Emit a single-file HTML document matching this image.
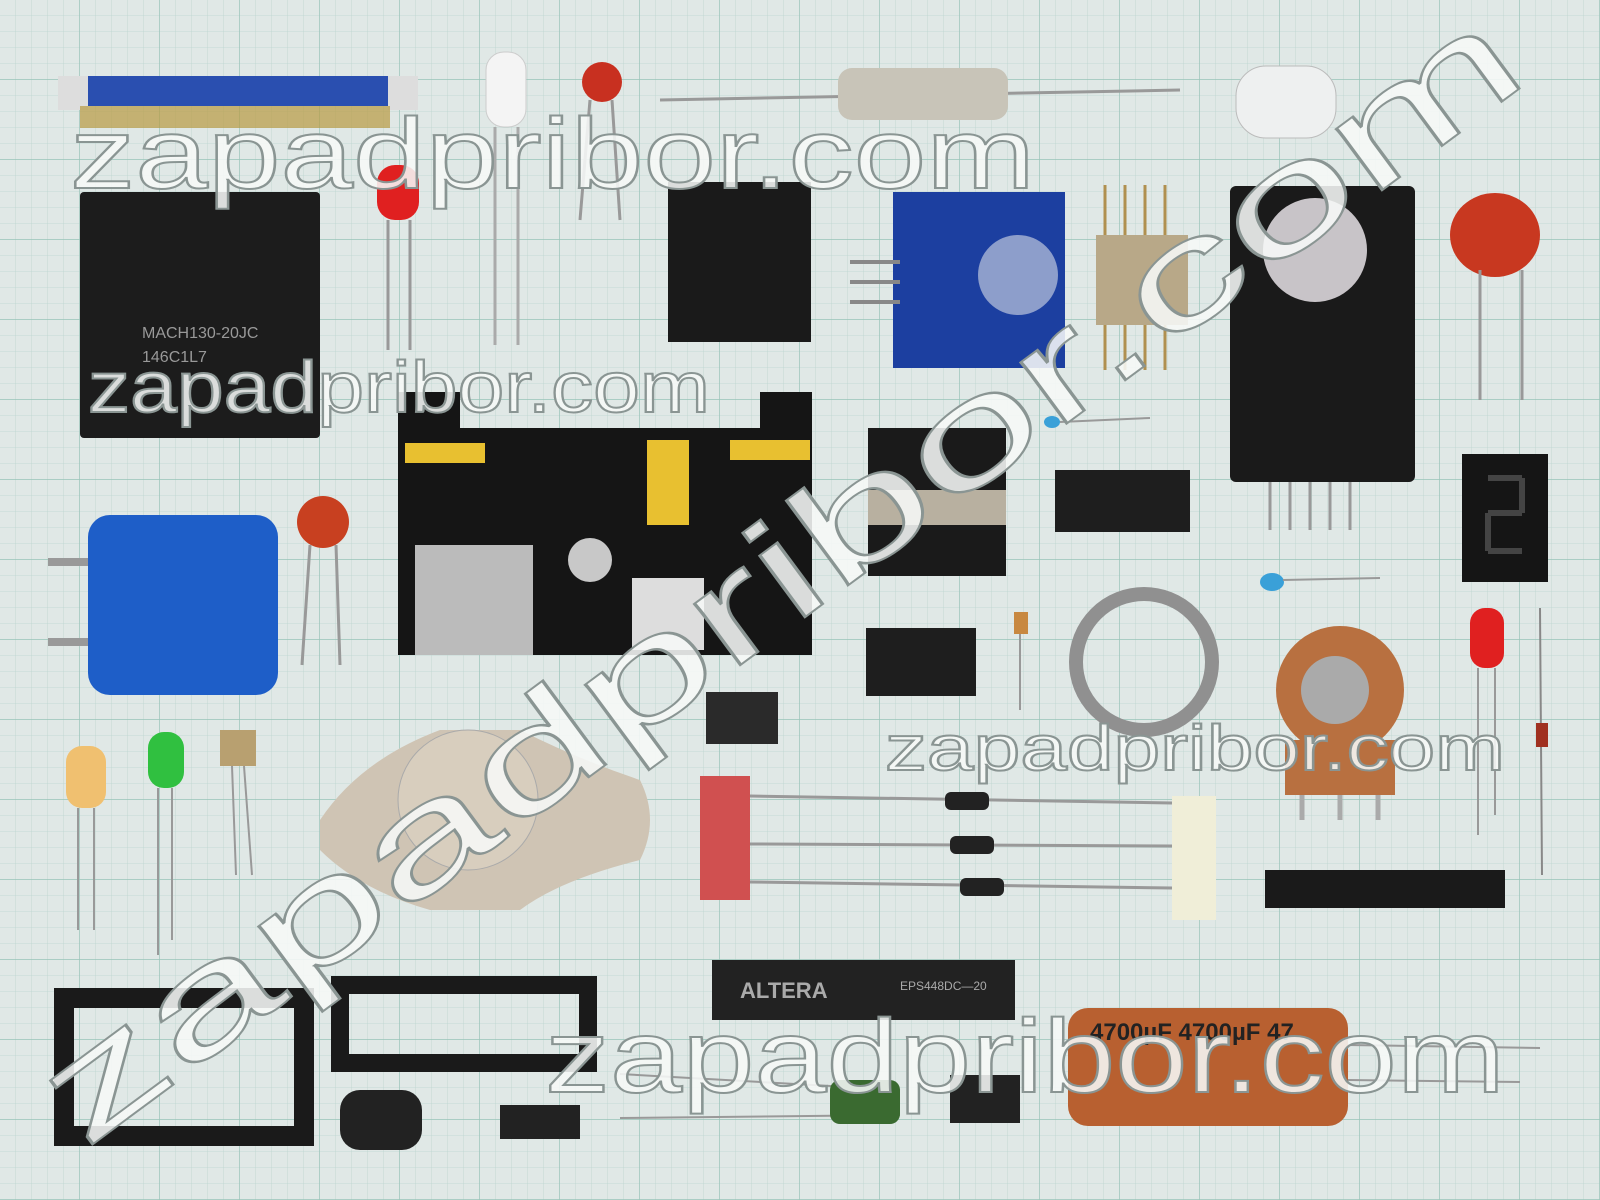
<!DOCTYPE html>
<html><head><meta charset="utf-8"><style>
html,body{margin:0;padding:0;width:1600px;height:1200px;overflow:hidden;background:#dce6e4}
svg{display:block}
.wm{font-family:"Liberation Sans",sans-serif;fill:#f6f8f7;stroke:#8a9593;stroke-width:2;fill-opacity:.88}
</style></head><body>
<svg width="1600" height="1200" viewBox="0 0 1600 1200" xmlns="http://www.w3.org/2000/svg">
<defs>
<pattern id="g1" width="16" height="16" patternUnits="userSpaceOnUse"><path d="M16 0V16H0" fill="none" stroke="#bcd6cf" stroke-width="0.8"/></pattern>
<pattern id="g2" width="80" height="80" patternUnits="userSpaceOnUse"><path d="M80 0V80H0" fill="none" stroke="#98c4b8" stroke-width="1.4"/></pattern>
</defs>
<rect width="1600" height="1200" fill="#e0e8e6"/>
<rect width="1600" height="1200" fill="url(#g1)"/>
<rect width="1600" height="1200" fill="url(#g2)"/>

<rect x="58" y="76" width="360" height="30" fill="#2a4fb0"/>
<rect x="58" y="76" width="30" height="34" fill="#ddd"/><rect x="388" y="76" width="30" height="34" fill="#ddd"/>
<rect x="80" y="106" width="310" height="22" fill="#b89a40" opacity=".7"/>
<rect x="80" y="192" width="240" height="246" fill="#1c1c1c" rx="4"/>
<text x="142" y="338" font-family="Liberation Sans" font-size="16" fill="#999">MACH130-20JC</text>
<text x="142" y="362" font-family="Liberation Sans" font-size="16" fill="#999">146C1L7</text>
<rect x="377" y="165" width="42" height="55" rx="18" fill="#e02020"/>
<rect x="486" y="52" width="40" height="75" rx="18" fill="#f4f4f4" stroke="#ccc"/>
<line x1="388" y1="220" x2="388" y2="350" stroke="#999" stroke-width="3"/><line x1="410" y1="220" x2="410" y2="350" stroke="#999" stroke-width="3"/>
<line x1="495" y1="127" x2="495" y2="345" stroke="#aaa" stroke-width="3"/><line x1="518" y1="127" x2="518" y2="345" stroke="#aaa" stroke-width="3"/>
<circle cx="602" cy="82" r="20" fill="#c83020"/>
<line x1="590" y1="100" x2="580" y2="220" stroke="#999" stroke-width="3"/><line x1="612" y1="100" x2="620" y2="220" stroke="#999" stroke-width="3"/>
<line x1="660" y1="100" x2="1180" y2="90" stroke="#999" stroke-width="3"/>
<rect x="838" y="68" width="170" height="52" rx="14" fill="#c8c4b8"/>
<rect x="1236" y="66" width="100" height="72" rx="30" fill="#eef0f0" stroke="#bbb"/>
<rect x="668" y="182" width="143" height="160" fill="#1a1a1a"/>
<rect x="893" y="192" width="172" height="176" fill="#1c3fa0"/>
<circle cx="1018" cy="275" r="40" fill="#d8dde8" opacity=".6"/>
<line x1="850" y1="262" x2="900" y2="262" stroke="#888" stroke-width="4"/><line x1="850" y1="282" x2="900" y2="282" stroke="#888" stroke-width="4"/><line x1="850" y1="302" x2="900" y2="302" stroke="#888" stroke-width="4"/>
<rect x="1096" y="235" width="92" height="90" fill="#b8a888"/>
<g stroke="#b09050" stroke-width="3"><line x1="1105" y1="185" x2="1105" y2="235"/><line x1="1125" y1="185" x2="1125" y2="235"/><line x1="1145" y1="185" x2="1145" y2="235"/><line x1="1165" y1="185" x2="1165" y2="235"/><line x1="1105" y1="325" x2="1105" y2="370"/><line x1="1125" y1="325" x2="1125" y2="370"/><line x1="1145" y1="325" x2="1145" y2="370"/><line x1="1165" y1="325" x2="1165" y2="370"/></g>
<rect x="1230" y="186" width="185" height="296" rx="6" fill="#1a1a1a"/>
<circle cx="1315" cy="250" r="52" fill="#c8c4c8"/>
<g stroke="#999" stroke-width="3"><line x1="1270" y1="482" x2="1270" y2="530"/><line x1="1290" y1="482" x2="1290" y2="530"/><line x1="1310" y1="482" x2="1310" y2="530"/><line x1="1330" y1="482" x2="1330" y2="530"/><line x1="1350" y1="482" x2="1350" y2="530"/></g>
<ellipse cx="1495" cy="235" rx="45" ry="42" fill="#c83820"/>
<line x1="1480" y1="270" x2="1480" y2="400" stroke="#999" stroke-width="3"/><line x1="1522" y1="270" x2="1522" y2="400" stroke="#999" stroke-width="3"/>
<path d="M398 392H460V428H760V392H812V655H398Z" fill="#151515"/>
<rect x="415" y="545" width="118" height="110" fill="#bbb"/>
<circle cx="590" cy="560" r="22" fill="#c8c8c8"/>
<rect x="632" y="578" width="72" height="72" fill="#ddd"/>
<rect x="647" y="440" width="42" height="85" fill="#e8c030"/>
<rect x="405" y="443" width="80" height="20" fill="#e8c030"/><rect x="730" y="440" width="80" height="20" fill="#e8c030"/>
<rect x="868" y="428" width="138" height="148" fill="#1a1a1a"/>
<rect x="868" y="490" width="138" height="35" fill="#b8b0a0"/>
<rect x="1055" y="470" width="135" height="62" fill="#1e1e1e"/>
<rect x="866" y="628" width="110" height="68" fill="#1e1e1e"/>
<rect x="706" y="692" width="72" height="52" fill="#2a2a2a"/>
<ellipse cx="1052" cy="422" rx="8" ry="6" fill="#3aa0d8"/>
<ellipse cx="1272" cy="582" rx="12" ry="9" fill="#3aa0d8"/>
<line x1="1060" y1="422" x2="1150" y2="418" stroke="#999" stroke-width="2"/><line x1="1283" y1="580" x2="1380" y2="578" stroke="#999" stroke-width="2"/>
<rect x="1462" y="454" width="86" height="128" fill="#151515"/>
<path d="M1488 478h34M1522 478v35M1488 513h34M1488 513v38M1488 551h34" stroke="#444" stroke-width="6" fill="none"/>
<rect x="88" y="515" width="190" height="180" rx="22" fill="#1e5ec8"/>
<rect x="48" y="558" width="40" height="8" fill="#999"/><rect x="48" y="638" width="40" height="8" fill="#999"/>
<circle cx="323" cy="522" r="26" fill="#c84020"/>
<line x1="310" y1="545" x2="302" y2="665" stroke="#999" stroke-width="3"/><line x1="336" y1="545" x2="340" y2="665" stroke="#999" stroke-width="3"/>
<rect x="1014" y="612" width="14" height="22" fill="#c88840"/><line x1="1020" y1="634" x2="1020" y2="710" stroke="#999" stroke-width="2"/>
<circle cx="1144" cy="662" r="68" fill="none" stroke="#909090" stroke-width="14"/>
<circle cx="1340" cy="690" r="64" fill="#b87040"/><circle cx="1335" cy="690" r="34" fill="#aaa"/>
<rect x="1285" y="740" width="110" height="55" fill="#b87040"/>
<g stroke="#aaa" stroke-width="5"><line x1="1302" y1="795" x2="1302" y2="820"/><line x1="1340" y1="795" x2="1340" y2="820"/><line x1="1378" y1="795" x2="1378" y2="820"/></g>
<rect x="1470" y="608" width="34" height="60" rx="15" fill="#e02020"/>
<line x1="1478" y1="668" x2="1478" y2="835" stroke="#999" stroke-width="2"/><line x1="1495" y1="668" x2="1495" y2="815" stroke="#999" stroke-width="2"/>
<line x1="1540" y1="608" x2="1542" y2="875" stroke="#888" stroke-width="2"/><rect x="1536" y="723" width="12" height="24" fill="#a03020"/>
<rect x="66" y="746" width="40" height="62" rx="16" fill="#f0c070"/>
<rect x="148" y="732" width="36" height="56" rx="16" fill="#30c040"/>
<rect x="220" y="730" width="36" height="36" fill="#b8a070"/>
<g stroke="#999" stroke-width="2"><line x1="78" y1="808" x2="78" y2="930"/><line x1="94" y1="808" x2="94" y2="930"/><line x1="158" y1="788" x2="158" y2="955"/><line x1="172" y1="788" x2="172" y2="940"/><line x1="232" y1="766" x2="236" y2="875"/><line x1="244" y1="766" x2="252" y2="875"/></g>
<path d="M320 820Q360 760 440 730H520Q580 760 640 780Q660 820 640 860Q560 880 520 910H430Q360 890 320 850Z" fill="#cfc4b4"/>
<circle cx="468" cy="800" r="70" fill="#d8cebe" stroke="#aaa"/>
<rect x="700" y="776" width="50" height="124" fill="#d05050"/>
<rect x="1172" y="796" width="44" height="124" fill="#f0eed8"/>
<g stroke="#999" stroke-width="3"><line x1="750" y1="796" x2="1172" y2="803"/><line x1="750" y1="844" x2="1172" y2="846"/><line x1="750" y1="882" x2="1172" y2="888"/></g>
<rect x="945" y="792" width="44" height="18" rx="6" fill="#222"/><rect x="950" y="836" width="44" height="18" rx="6" fill="#222"/><rect x="960" y="878" width="44" height="18" rx="6" fill="#222"/>
<rect x="1265" y="870" width="240" height="38" fill="#1a1a1a"/>
<rect x="712" y="960" width="303" height="60" fill="#222"/>
<text x="740" y="998" font-family="Liberation Sans" font-size="22" font-weight="bold" fill="#aaa">ALTERA</text>
<text x="900" y="990" font-family="Liberation Sans" font-size="12" fill="#aaa">EPS448DC—20</text>
<rect x="64" y="998" width="240" height="138" fill="none" stroke="#1a1a1a" stroke-width="20"/>
<rect x="340" y="985" width="248" height="78" fill="none" stroke="#1a1a1a" stroke-width="18"/>
<rect x="340" y="1090" width="82" height="60" rx="20" fill="#222"/>
<rect x="500" y="1105" width="80" height="34" fill="#222"/>
<rect x="950" y="1075" width="70" height="48" fill="#222"/>
<line x1="620" y1="1074" x2="900" y2="1090" stroke="#999" stroke-width="2"/><line x1="620" y1="1118" x2="900" y2="1115" stroke="#999" stroke-width="2"/>
<rect x="830" y="1080" width="70" height="44" rx="10" fill="#3a6a30"/>
<rect x="1068" y="1008" width="280" height="118" rx="20" fill="#b86030"/>
<text x="1090" y="1040" font-family="Liberation Sans" font-size="24" font-weight="bold" fill="#222">4700µF 4700µF 47</text>
<line x1="1348" y1="1045" x2="1540" y2="1048" stroke="#999" stroke-width="2"/><line x1="1348" y1="1080" x2="1520" y2="1082" stroke="#999" stroke-width="2"/>

<text class="wm" x="70" y="188" font-size="100" textLength="965" lengthAdjust="spacingAndGlyphs">zapadpribor.com</text>
<text class="wm" x="88" y="412" font-size="72" textLength="622" lengthAdjust="spacingAndGlyphs">zapadpribor.com</text>
<text class="wm" x="885" y="770" font-size="64" textLength="620" lengthAdjust="spacingAndGlyphs">zapadpribor.com</text>
<text class="wm" x="545" y="1092" font-size="104" textLength="960" lengthAdjust="spacingAndGlyphs">zapadpribor.com</text>
<text class="wm" x="0" y="0" font-size="145" stroke-width="3" textLength="1800" lengthAdjust="spacingAndGlyphs" transform="translate(85,1150) rotate(-36.5)">zapadpribor.com</text>
</svg>
</body></html>
